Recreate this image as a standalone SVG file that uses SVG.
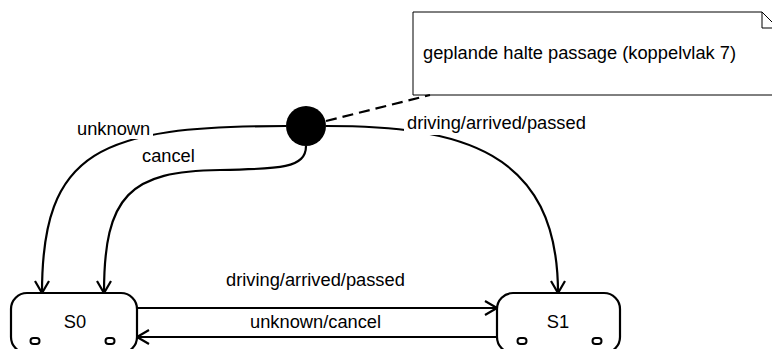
<svg xmlns="http://www.w3.org/2000/svg" width="772" height="349" viewBox="0 0 772 349">
<style>
text{font-family:"Liberation Sans",Arial,sans-serif;font-size:18.3px;fill:#000}
.c{fill:none;stroke:#000;stroke-width:2.2}
.st{fill:#fff;stroke:#000;stroke-width:2.2}
.ov{fill:#fff;stroke:#000;stroke-width:2}
.bg{fill:#fff;stroke:none}
</style>
<defs>
<marker id="a" markerWidth="16" markerHeight="16" refX="13" refY="8" orient="auto" markerUnits="userSpaceOnUse">
<path d="M1,1 L13,8 L1,15" fill="none" stroke="#000" stroke-width="2.2"/>
</marker>
</defs>
<rect width="772" height="349" fill="#fff"/>
<g id="note">
<path d="M413,12 H762 L780,30 V95 H413 Z" fill="#fff" stroke="#000" stroke-width="1"/>
<path d="M762,12 V28 H780" fill="none" stroke="#000" stroke-width="1"/>
<text x="423" y="59">geplande halte passage (koppelvlak 7)</text>
</g>
<g id="connectors">
<path class="c" d="M326,121 L430,95" stroke-dasharray="11,6"/>
<path class="c" d="M286,126 C100,126 42,150 42,293" marker-end="url(#a)"/>
<path class="c" d="M306,146 C306,168 280,169 220,170 C130,171 104,195 104,293" marker-end="url(#a)"/>
<path class="c" d="M326,126 C460,126 558,150 558,293" marker-end="url(#a)"/>
<path class="c" d="M137,308 H497" marker-end="url(#a)"/>
<path class="c" d="M497,337 H137" marker-end="url(#a)"/>
<rect class="bg" x="75" y="119" width="78" height="20"/>
<text x="77" y="135">unknown</text>
<text x="142" y="162">cancel</text>
<rect class="bg" x="404" y="113" width="186" height="22"/>
<text x="407" y="129">driving/arrived/passed</text>
<text x="226" y="286">driving/arrived/passed</text>
<text x="250" y="328">unknown/cancel</text>
</g>
<g id="init">
<circle cx="306" cy="126" r="20" fill="#000"/>
</g>
<g id="S0">
<rect class="st" x="11" y="293" width="126" height="60" rx="16"/>
<text x="75" y="328" text-anchor="middle">S0</text>
<rect class="ov" x="30.5" y="338" width="9" height="6" rx="3"/>
<rect class="ov" x="105.5" y="338" width="9" height="6" rx="3"/>
</g>
<g id="S1">
<rect class="st" x="497" y="293" width="123" height="60" rx="16"/>
<text x="558" y="328" text-anchor="middle">S1</text>
<rect class="ov" x="517.5" y="338" width="9" height="6" rx="3"/>
<rect class="ov" x="592.5" y="338" width="9" height="6" rx="3"/>
</g>
</svg>
